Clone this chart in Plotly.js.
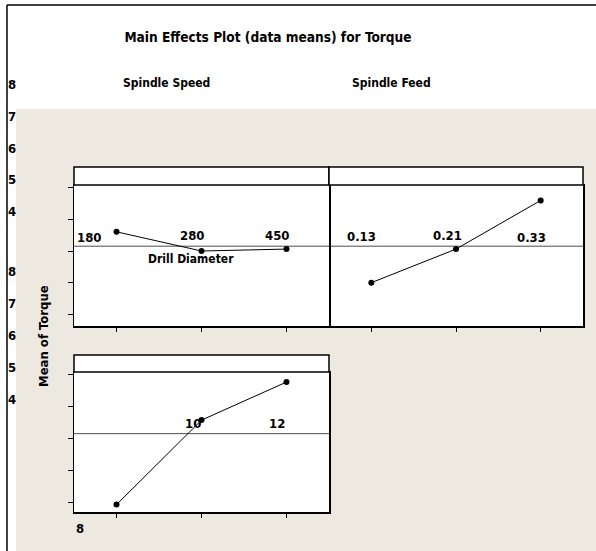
<!DOCTYPE html>
<html>
<head>
<meta charset="utf-8">
<script src="https://cdn.plot.ly/plotly-3.0.1.min.js"></script>
<style>
  html, body { margin: 0; padding: 0; background: #ffffff; }
  #chart { width: 596px; height: 551px; }
</style>
</head>
<body>
<div id="chart"></div>
<script>
// Factor levels (categories on each panel's x axis)
const speedLevels = ['180', '280', '450'];
const feedLevels = ['0.13', '0.21', '0.33'];
const diameterLevels = ['8', '10', '12'];

// Mean torque at each factor level
const speedMeans = [6.60, 6.00, 6.06];
const feedMeans = [5.01, 6.06, 7.58];
const diameterMeans = [3.95, 6.57, 7.75];

// Overall mean of torque (reference line on every panel)
const grandMean = 6.15;

// Torque axis ticks and their printed labels
const torqueTicks = [8, 7, 6, 5, 4];
const torqueTickLabels = ['8', '7', '6', '5', '4'];

// Factor names
const factorNames = ['Spindle Speed', 'Spindle Feed', 'Drill Diameter'];

const W = 596, H = 551;
const px = x => x / W;          // pixel column -> paper x
const py = y => 1 - y / H;      // pixel row -> paper y

const FONT = "'DejaVu Sans Condensed', 'DejaVu Sans', sans-serif";
const BEIGE = '#EDE9E0';

function effectTrace(levels, means, xa, ya) {
  return {
    type: 'scatter', mode: 'lines+markers',
    x: levels, y: means, xaxis: xa, yaxis: ya,
    line: { color: '#000000', width: 1 },
    marker: { color: '#000000', size: 6 },
    hoverinfo: 'x+y', showlegend: false, cliponaxis: false
  };
}

const data = [
  effectTrace(speedLevels, speedMeans, 'x', 'y'),
  effectTrace(feedLevels, feedMeans, 'x2', 'y2'),
  effectTrace(diameterLevels, diameterMeans, 'x3', 'y3')
];

const frame = { showline: true, mirror: true, linecolor: '#000000', linewidth: 1.5,
  showgrid: false, zeroline: false, showticklabels: false, fixedrange: true };

function xAxis(domain, anchor) {
  return Object.assign({}, frame, {
    domain: domain, anchor: anchor, type: 'category', range: [-0.5, 2.5],
    ticks: 'outside', ticklen: 4, tickwidth: 1, tickcolor: '#000000'
  });
}
function yAxis(domain, anchor, range, withTicks) {
  return Object.assign({}, frame, {
    domain: domain, anchor: anchor, range: range,
    tickmode: 'array', tickvals: torqueTicks,
    ticks: withTicks ? 'outside' : '', ticklen: 5, tickwidth: 1, tickcolor: '#000000'
  });
}

const shapes = [
  // white band above and to the left of the shaded area
  { type: 'rect', xref: 'paper', yref: 'paper', x0: 0, x1: 1, y0: py(109), y1: 1,
    fillcolor: '#ffffff', line: { width: 0 }, layer: 'below' },
  { type: 'rect', xref: 'paper', yref: 'paper', x0: 0, x1: px(16), y0: 0, y1: 1,
    fillcolor: '#ffffff', line: { width: 0 }, layer: 'below' },
  // outer frame (top and left)
  { type: 'line', xref: 'paper', yref: 'paper', x0: px(7), x1: 1, y0: py(5), y1: py(5),
    line: { color: '#000000', width: 1.5 } },
  { type: 'line', xref: 'paper', yref: 'paper', x0: px(7), x1: px(7), y0: py(5), y1: 0,
    line: { color: '#000000', width: 1.5 } },
  // panel header strips
  { type: 'rect', xref: 'paper', yref: 'paper', x0: px(74), x1: px(329), y0: py(185), y1: py(167),
    fillcolor: '#ffffff', line: { color: '#000000', width: 1.5 } },
  { type: 'rect', xref: 'paper', yref: 'paper', x0: px(329), x1: px(583), y0: py(185), y1: py(167),
    fillcolor: '#ffffff', line: { color: '#000000', width: 1.5 } },
  { type: 'rect', xref: 'paper', yref: 'paper', x0: px(74), x1: px(329), y0: py(372), y1: py(355),
    fillcolor: '#ffffff', line: { color: '#000000', width: 1.5 } }
];

// grand-mean reference line across each panel
[['x', 'y'], ['x2', 'y2'], ['x3', 'y3']].forEach(([xa, ya]) => {
  shapes.push({ type: 'line', xref: xa + ' domain', yref: ya, x0: 0, x1: 1,
    y0: grandMean, y1: grandMean, line: { color: '#4d4d4d', width: 1 }, layer: 'below' });
});

const bold = (size) => ({ family: FONT, size: size, color: '#000000', weight: 'bold' });
const annotations = [];
function note(obj) {
  annotations.push(Object.assign({ showarrow: false, xanchor: 'center', yanchor: 'middle',
    font: bold(12) }, obj));
}

// factor headers
note({ xref: 'paper', yref: 'paper', x: px(166), y: py(83), text: factorNames[0] });
note({ xref: 'paper', yref: 'paper', x: px(391), y: py(83), text: factorNames[1] });
note({ xref: 'paper', yref: 'paper', x: px(191), y: py(259), text: factorNames[2] });

// torque tick labels, printed up the left margin
['y', 'y3'].forEach(ya => {
  torqueTicks.forEach((v, i) => {
    note({ xref: 'paper', yref: ya, x: px(12), y: v, yshift: 103, text: torqueTickLabels[i],
      font: bold(13) });
  });
});

// level labels (x given as the category index on each panel)
const levelLabelPos = [
  { xa: 'x', levels: speedLevels, shift: [-28, -10, -10], row: [237, 235, 235] },
  { xa: 'x2', levels: feedLevels, shift: [-10, -9, -9], row: [236, 235, 237] },
  { xa: 'x3', levels: diameterLevels, shift: [-37, -9, -10], row: [528, 423, 423] }
];
levelLabelPos.forEach(p => {
  p.levels.forEach((lv, i) => {
    note({ xref: p.xa, yref: 'paper', x: i, xshift: p.shift[i], y: py(p.row[i]), text: lv,
      font: bold(13) });
  });
});

// y axis title
note({ xref: 'paper', yref: 'paper', x: px(43), y: py(336), text: 'Mean of Torque',
  textangle: -90, font: bold(13) });

const y2 = yAxis([py(326), py(185)], 'x2', [3.656, 8.0625], false);
y2.side = 'right';
y2.mirror = false;

const layout = {
  width: W, height: H,
  margin: { l: 0, r: 0, t: 0, b: 0, pad: 0 },
  paper_bgcolor: BEIGE, plot_bgcolor: '#ffffff',
  showlegend: false,
  title: { text: 'Main Effects Plot (data means) for Torque', font: bold(13.6),
    x: px(268), xanchor: 'center', xref: 'paper', y: py(37), yanchor: 'middle', yref: 'container' },
  xaxis: xAxis([px(74), px(329)], 'y'),
  yaxis: yAxis([py(326), py(185)], 'x', [3.656, 8.0625], true),
  xaxis2: xAxis([px(329), px(583)], 'y2'),
  yaxis2: y2,
  xaxis3: xAxis([px(74), px(329)], 'y3'),
  yaxis3: yAxis([py(512), py(372)], 'x3', [3.72, 8.062], true),
  shapes: shapes,
  annotations: annotations
};

Plotly.newPlot('chart', data, layout, { displayModeBar: false, staticPlot: true });
</script>
</body>
</html>
